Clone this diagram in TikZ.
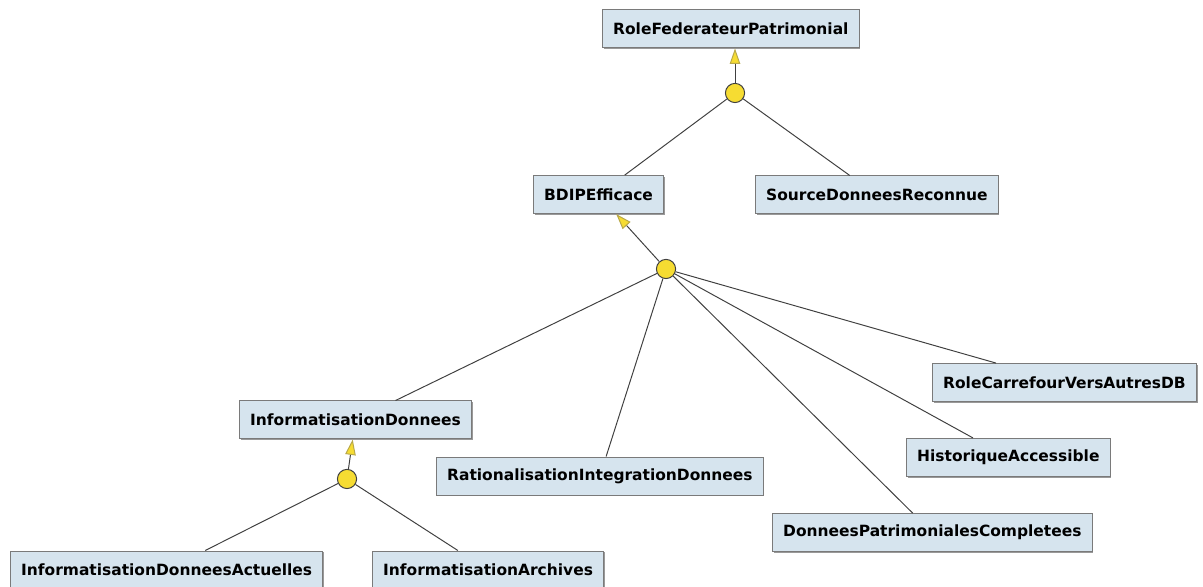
\documentclass[tikz,border=0pt]{standalone}
\usepackage{fontspec}
\setmainfont{DejaVu Sans}
\definecolor{goalfill}{HTML}{D6E4EE}
\definecolor{goaledge}{HTML}{7A7A7A}
\definecolor{junctyellow}{HTML}{F6DC32}
\definecolor{tipedge}{HTML}{B8A84A}
\definecolor{linkgray}{HTML}{404040}
\usetikzlibrary{arrows.meta, positioning, shadows}
\tikzset{
  goal/.style={
    draw=goaledge, fill=goalfill, line width=0.7pt,
    minimum height=0.95cm, inner xsep=7.6pt, anchor=west,
    font=\fontsize{11}{12}\selectfont\bfseries, text=black,
    drop shadow={shadow xshift=0.8pt, shadow yshift=-0.8pt, fill=black!40, opacity=1}
  },
  junct/.style={
    circle, draw=linkgray, fill=junctyellow, line width=0.7pt,
    minimum size=0.48cm, inner sep=0pt
  },
  link/.style={draw=linkgray, line width=0.7pt},
  refine/.style={link, -{Triangle[length=11pt, width=7.5pt, color=tipedge, fill=junctyellow]}},
}

\begin{document}
\begin{tikzpicture}
    \useasboundingbox (0,0) rectangle (30.075,14.675);

    % top level
    \node[goal] (rfp) at (15.05,13.95) {RoleFederateurPatrimonial};
    \node[junct] (j1) at (18.375,12.35) {};

    % second level
    \node[goal] (bdip) at (13.325,9.81) {BDIPEfficace};
    \node[goal] (sdr) at (18.875,9.80) {SourceDonneesReconnue};
    \node[junct] (j2) at (16.65,7.95) {};

    % refinements of BDIPEfficace
    \node[goal] (infd) at (5.975,4.175) {InformatisationDonnees};
    \node[goal] (rid) at (10.9,2.775) {RationalisationIntegrationDonnees};
    \node[goal] (rcad) at (23.3,5.11) {RoleCarrefourVersAutresDB};
    \node[goal] (hacc) at (22.65,3.24) {HistoriqueAccessible};
    \node[goal] (dpc) at (19.3,1.36) {DonneesPatrimonialesCompletees};
    \node[junct] (j3) at (8.675,2.7) {};

    % bottom level
    \node[goal] (ida) at (0.25,0.425) {InformatisationDonneesActuelles};
    \node[goal] (iar) at (9.3,0.425) {InformatisationArchives};

    \draw[refine] (j1) -- (j1 |- rfp.south);
    \draw[link] (j1) -- (bdip);
    \draw[link] (j1) -- (sdr);

    \draw[refine] (j2) -- (bdip);
    \draw[link] (j2) -- (infd);
    \draw[link] (j2) -- (rid);
    \draw[link] (j2) -- (rcad);
    \draw[link] (j2) -- (hacc);
    \draw[link] (j2) -- (dpc);

    \draw[refine] (j3) -- (infd);
    \draw[link] (j3) -- (ida);
    \draw[link] (j3) -- (iar);
\end{tikzpicture}
\end{document}
